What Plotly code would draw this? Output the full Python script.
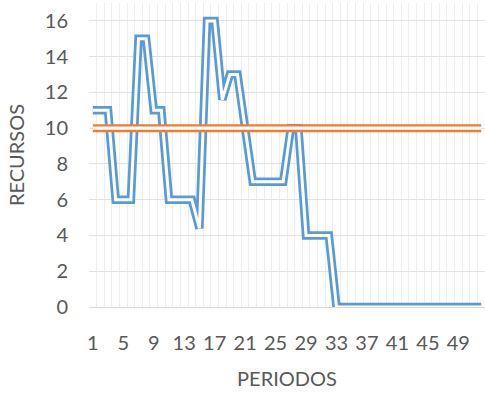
import plotly.graph_objects as go

# Data
periodos = list(range(1, 53))
recursos = [11, 11, 11, 6, 6, 6, 15, 15, 11, 11,
            6, 6, 6, 6, 4.4, 16, 16, 11.6, 13, 13,
            10, 7, 7, 7, 7, 7, 10, 10, 4, 4,
            4, 4, 0, 0, 0, 0, 0, 0, 0, 0,
            0, 0, 0, 0, 0, 0, 0, 0, 0, 0,
            0, 0]
limite = [10] * 52
x_tick_vals = [1, 5, 9, 13, 17, 21, 25, 29, 33, 37, 41, 45, 49]
y_tick_vals = [0, 2, 4, 6, 8, 10, 12, 14, 16]

BLUE = "#5B9BD5"
ORANGE = "#ED7D31"
TEXT = "#595959"
FONT = "Lato"

fig = go.Figure()

def double_line(x, y, color, outer, inner, name):
    fig.add_trace(go.Scatter(x=x, y=y, mode="lines", name=name,
                             line=dict(color=color, width=outer),
                             hoverinfo="skip", showlegend=False))
    fig.add_trace(go.Scatter(x=x, y=y, mode="lines", name=name,
                             line=dict(color="white", width=inner),
                             hoverinfo="skip", showlegend=False))

double_line(periodos, recursos, BLUE, 8.5, 3, "Recursos")
double_line(periodos, limite, ORANGE, 8, 3.2, "Límite")

fig.update_layout(
    width=485, height=393,
    margin=dict(l=89, r=0, t=3, b=86),
    paper_bgcolor="white", plot_bgcolor="white",
    font=dict(family=FONT, size=20, color=TEXT),
    showlegend=False,
)

fig.update_xaxes(
    range=[0.5, 52.5],
    tickmode="array", tickvals=x_tick_vals,
    ticktext=[str(v) for v in x_tick_vals],
    showgrid=False, zeroline=False,
    showline=True, linecolor="#D9D9D9", linewidth=1,
    ticks="", ticklabelstandoff=18,
    tickfont=dict(family=FONT, size=20, color=TEXT),
    minor=dict(tick0=0.5, dtick=1, showgrid=True, gridcolor="#EEEEEE", gridwidth=1, ticks=""),
    title=dict(text="PERIODOS", font=dict(family=FONT, size=20, color=TEXT), standoff=18),
)

fig.update_yaxes(
    range=[0, 17],
    tickmode="array", tickvals=y_tick_vals,
    ticktext=[str(v) for v in y_tick_vals],
    showgrid=True, gridcolor="#E2E2E2", gridwidth=1,
    zeroline=False, showline=False,
    ticks="", ticklabelstandoff=20,
    tickfont=dict(family=FONT, size=20, color=TEXT),
    title=dict(text="RECURSOS", font=dict(family=FONT, size=20, color=TEXT), standoff=14),
)

fig.write_html("out.html")
